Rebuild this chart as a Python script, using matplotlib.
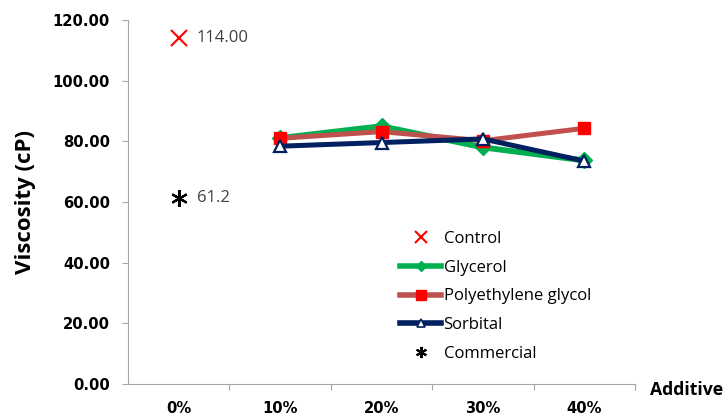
import matplotlib
matplotlib.use("Agg")
import matplotlib.pyplot as plt
from matplotlib.lines import Line2D

plt.rcParams['font.family'] = ['Open Sans', 'DejaVu Sans']

categories = ["0%", "10%", "20%", "30%", "40%"]
control = [114.00]
commercial = [61.2]
glycerol = [81.1, 85.0, 78.0, 73.7]
peg = [81.0, 83.2, 80.2, 84.3]
sorbital = [78.4, 79.6, 80.8, 73.5]
yticks = [0, 20, 40, 60, 80, 100, 120]

W, H = 728, 416
fig = plt.figure(figsize=(W / 100, H / 100), dpi=100)
ax = fig.add_axes([128 / W, (H - 384) / H, (635 - 128) / W, (384 - 20) / H])

x = list(range(len(categories)))
ax.plot(x[1:], glycerol, color="#00B050", lw=4.2, marker="D", ms=8.5,
        mfc="#00B050", mec="#00B050", zorder=3)
ax.plot(x[1:], peg, color="#C0504D", lw=3.6, marker="s", ms=9,
        mfc="#FF0000", mec="#FF0000", zorder=4)
ax.plot(x[1:], sorbital, color="#002060", lw=3.6, marker="^", ms=8,
        mfc="white", mec="#002060", mew=1.6, zorder=5)
ax.plot(x[:1], control, ls="none", marker="x", ms=11, mew=1.5,
        color="#FF0000", zorder=5)
ax.plot(x[:1], commercial, ls="none", marker=(6, 2, 0), ms=12, mew=1.6,
        color="black", zorder=5)

ax.annotate(f"{control[0]:.2f}", (x[0], control[0]), xytext=(13, 0),
            textcoords="offset points", va="center", fontsize=12, color="#404040")
ax.annotate(f"{commercial[0]}", (x[0], commercial[0]), xytext=(13, 0),
            textcoords="offset points", va="center", fontsize=12, color="#404040")

ax.set_xlim(-0.5, len(categories) - 0.5)
ax.set_ylim(0, 120)
ax.set_yticks(yticks)
ax.set_yticklabels([f"{v:.2f}" for v in yticks], fontweight="bold", fontsize=10.6,
                   family="DejaVu Sans")
ax.set_xticks([i + 0.5 for i in range(len(categories))])
ax.set_xticklabels([])
ax.set_xticks(x, minor=True)
ax.set_xticklabels(categories, minor=True, fontweight="bold", fontsize=10.6,
                   family="DejaVu Sans")
ax.tick_params(axis="x", which="minor", length=0, pad=12)
ax.tick_params(axis="x", which="major", length=4.5, color="#A6A6A6", direction="out")
ax.tick_params(axis="y", length=4.5, color="#A6A6A6", direction="out", pad=8.5)

for s in ["top", "right"]:
    ax.spines[s].set_visible(False)
for s in ["left", "bottom"]:
    ax.spines[s].set_color("#A6A6A6")

fig.text(25 / W, 1 - 202 / H, "Viscosity (cP)", rotation=90, fontweight="bold",
         fontsize=16, ha="center", va="center")
fig.text(650 / W, 1 - 390 / H, "Additive", fontweight="bold", fontsize=12.7,
         ha="left", va="center")

handles = [
    Line2D([], [], ls="none", marker="x", ms=8, mew=1.5, color="#FF0000"),
    Line2D([], [], color="#00B050", lw=4, marker="D", ms=5, mfc="#00B050", mec="#00B050"),
    Line2D([], [], color="#C0504D", lw=4, marker="s", ms=7, mfc="#FF0000", mec="#FF0000"),
    Line2D([], [], color="#002060", lw=4, marker="^", ms=6, mfc="white", mec="#002060", mew=1.2),
    Line2D([], [], ls="none", marker=(6, 2, 0), ms=8, mew=1.5, color="black"),
]
labels = ["Control", "Glycerol", "Polyethylene glycol", "Sorbital", "Commercial"]
leg = fig.legend(handles, labels, loc="upper left",
                 bbox_to_anchor=(400 / W, 1 - 231 / H), frameon=False, fontsize=12,
                 handlelength=2.46, handletextpad=0.15, labelspacing=0.76,
                 borderpad=0, borderaxespad=0)

fig.savefig("out.png", dpi=100)
